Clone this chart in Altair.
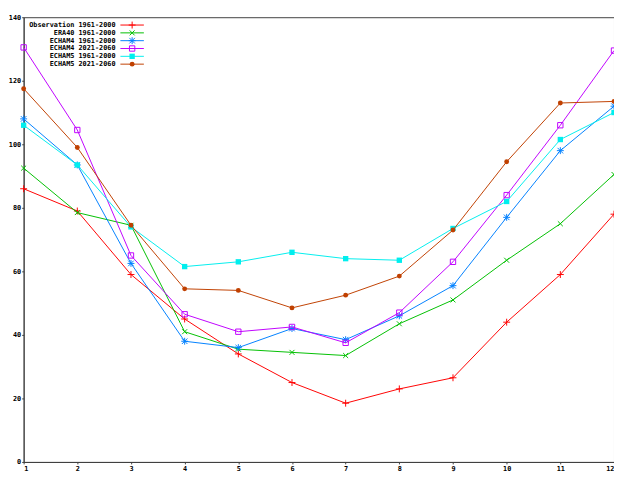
import pandas as pd
import altair as alt

months = list(range(1, 13))
series = ["Observation 1961-2000", "ERA40 1961-2000", "ECHAM4 1961-2000",
          "ECHAM4 2021-2060", "ECHAM5 1961-2000", "ECHAM5 2021-2060"]
obs = [86, 79, 59, 45, 34, 25, 18.5, 23, 26.5, 44, 59, 78]
era40 = [92.5, 78.5, 74.5, 41, 35.5, 34.5, 33.5, 43.5, 51, 63.5, 75, 90.5]
echam4_hist = [108, 93.5, 62.5, 38, 36, 42, 38.5, 46, 55.5, 77, 98, 112]
echam4_fut = [130.5, 104.5, 65, 46.5, 41, 42.5, 37.5, 47, 63, 84, 106, 129.5]
echam5_hist = [106, 93.5, 74, 61.5, 63, 66, 64, 63.5, 73.5, 82, 101.5, 110]
echam5_fut = [117.5, 99, 74.5, 54.5, 54, 48.5, 52.5, 58.5, 73, 94.5, 113, 113.5]
values = [obs, era40, echam4_hist, echam4_fut, echam5_hist, echam5_fut]

colors = ["#ff0000", "#00c000", "#0080ff", "#c000ff", "#00eeee", "#c04000"]
PLUS = "M-1,0L1,0M0,-1L0,1"
XMARK = "M-0.8,-0.8L0.8,0.8M-0.8,0.8L0.8,-0.8"
STAR = PLUS + XMARK
shapes = [PLUS, XMARK, STAR, "square", "square", "circle"]
filled = [False, False, False, False, True, True]
sizes = [50, 40, 50, 30, 30, 25]

W, H = 604, 455
FONT = "DejaVu Sans Mono"

x_scale = alt.Scale(domain=[1, 12], nice=False)
y_scale = alt.Scale(domain=[0, 140], nice=False)

axis_style = dict(title=None, grid=False, labelFont=FONT, labelFontSize=7,
                  labelFontWeight="bold", tickSize=2, labelPadding=1,
                  domainColor="#404040", tickColor="#404040")

layers = []
for i, name in enumerate(series):
    df = pd.DataFrame({"month": months, "value": values[i], "series": name})
    base = alt.Chart(df).encode(
        x=alt.X("month:Q", scale=x_scale, axis=alt.Axis(values=months, **axis_style)),
        y=alt.Y("value:Q", scale=y_scale,
                axis=alt.Axis(values=list(range(0, 141, 20)), **axis_style)),
    )
    layers.append(base.mark_line(color=colors[i], strokeWidth=1))
    layers.append(base.mark_point(shape=shapes[i], color=colors[i], filled=filled[i],
                                  size=sizes[i], strokeWidth=1, opacity=1))

    # legend entry drawn in the top-left corner
    ly = 8 + i * 8
    lab = alt.Chart(pd.DataFrame({"t": [name]})).mark_text(
        align="right", baseline="middle", font=FONT, fontSize=7, fontWeight="bold",
        color="black").encode(text="t:N", x=alt.value(94), y=alt.value(ly))
    seg = alt.Chart(pd.DataFrame({"t": [name]})).mark_rule(
        color=colors[i], strokeWidth=1).encode(
        x=alt.value(99), x2=alt.value(123), y=alt.value(ly))
    sym = alt.Chart(pd.DataFrame({"t": [name]})).mark_point(
        shape=shapes[i], color=colors[i], filled=filled[i], size=sizes[i],
        strokeWidth=1, opacity=1).encode(x=alt.value(111), y=alt.value(ly))
    layers += [lab, seg, sym]

chart = alt.layer(*layers).properties(
    width=W, height=H, padding={"left": 16, "top": 4, "right": 0, "bottom": 12},
    autosize=alt.AutoSizeParams(type="none"),
).configure_view(stroke="#404040", strokeWidth=1)

chart.save("out.html", embed_options={"renderer": "svg", "actions": False})
